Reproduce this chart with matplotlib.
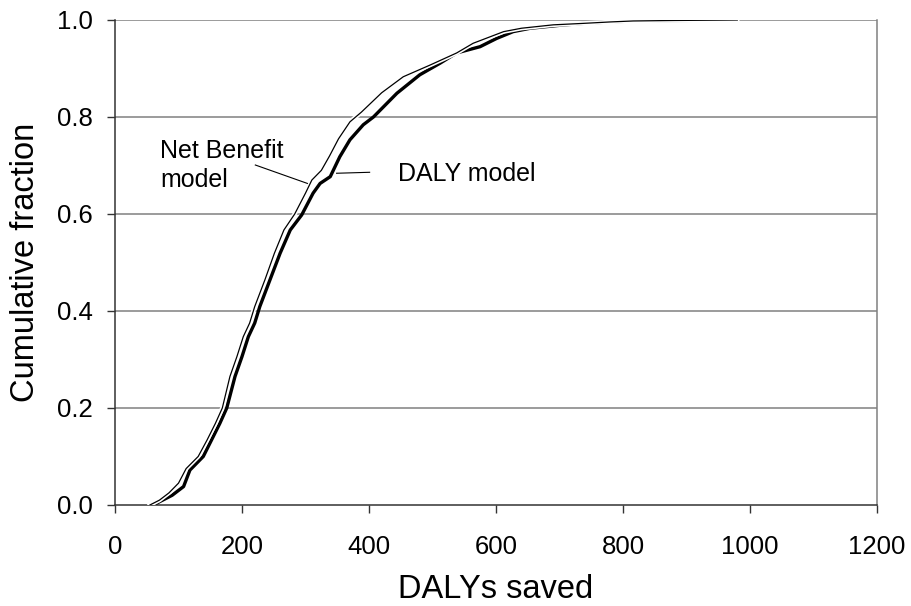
import matplotlib
matplotlib.use("Agg")
import matplotlib.pyplot as plt
import matplotlib.patheffects as pe

# DALY model cumulative distribution
daly_x = [60, 75, 90, 108, 118, 139, 152, 165, 176, 189, 200, 210, 220, 228,
          244, 260, 276, 294, 312, 323, 339, 354, 370, 391, 407, 444, 480,
          512, 538, 575, 601, 627, 654, 700, 737, 780, 816, 880, 980]
daly_y = [0, 0.01, 0.02, 0.038, 0.072, 0.10, 0.134, 0.168, 0.2, 0.265, 0.306,
          0.347, 0.375, 0.409, 0.464, 0.519, 0.567, 0.598, 0.643, 0.663, 0.677,
          0.718, 0.753, 0.784, 0.80, 0.849, 0.887, 0.911, 0.932, 0.945, 0.962,
          0.976, 0.983, 0.989, 0.993, 0.996, 0.998, 0.999, 1.0]

# Net Benefit model cumulative distribution
nb_x = [55, 70, 85, 100, 112, 131, 145, 158, 169, 181, 192, 202, 212, 220,
        236, 251, 266, 283, 300, 310, 325, 338, 352, 370, 388, 420, 454,
        496, 538, 564, 590, 612, 640, 690, 737, 780, 816, 880, 980]
nb_y = [0, 0.01, 0.025, 0.045, 0.075, 0.10, 0.134, 0.168, 0.2, 0.265, 0.306,
        0.347, 0.375, 0.409, 0.464, 0.519, 0.567, 0.60, 0.643, 0.67, 0.69,
        0.72, 0.755, 0.79, 0.81, 0.85, 0.883, 0.907, 0.932, 0.952, 0.965,
        0.976, 0.983, 0.99, 0.993, 0.996, 0.998, 0.999, 1.0]

x_ticks = [0, 200, 400, 600, 800, 1000, 1200]
y_ticks = [0.0, 0.2, 0.4, 0.6, 0.8, 1.0]

plt.rcParams["font.family"] = ["Liberation Sans", "DejaVu Sans"]

fig = plt.figure(figsize=(9.12, 6.06), dpi=100)
ax = fig.add_axes([0.1261, 0.1667, 0.8355, 0.8003])

for y in y_ticks[1:]:
    ax.axhline(y, color="#808080", linewidth=1.1, zorder=1)

ax.plot(daly_x, daly_y, color="black", linewidth=2.4, zorder=3,
        solid_joinstyle="round")
ax.plot(nb_x, nb_y, color="black", linewidth=0.9, zorder=4,
        path_effects=[pe.Stroke(linewidth=3.2, foreground="white"), pe.Normal()])

ax.set_xlim(0, 1200)
ax.set_ylim(0, 1.0)
ax.set_xticks(x_ticks)
ax.set_yticks(y_ticks)
ax.set_xticklabels([str(v) for v in x_ticks], fontsize=18.5)
ax.set_yticklabels([f"{v:.1f}" for v in y_ticks], fontsize=18.5)
ax.tick_params(direction="out", length=5.8, width=1, color="#333333")
ax.tick_params(axis="x", pad=15.5)
ax.tick_params(axis="y", pad=10)

ax.spines["top"].set_visible(False)
ax.spines["right"].set_color("#808080")
ax.spines["left"].set_color("#333333")
ax.spines["bottom"].set_color("#333333")
for s in ax.spines.values():
    s.set_linewidth(1.1)

ax.set_xlabel("DALYs saved", fontsize=23.5, labelpad=11)
ax.set_ylabel("Cumulative fraction", fontsize=23.5, labelpad=12)

# annotations with leader lines
ax.text(71, 0.7155, "Net Benefit", fontsize=18, ha="left", va="baseline")
ax.text(71, 0.6557, "model", fontsize=18, ha="left", va="baseline")
ax.plot([221, 303], [0.701, 0.663], color="black", linewidth=0.8, zorder=5)
ax.text(446, 0.668, "DALY model", fontsize=18, ha="left", va="baseline")
ax.plot([349, 401], [0.684, 0.686], color="black", linewidth=0.8, zorder=5)

fig.savefig("out.png", dpi=100)
